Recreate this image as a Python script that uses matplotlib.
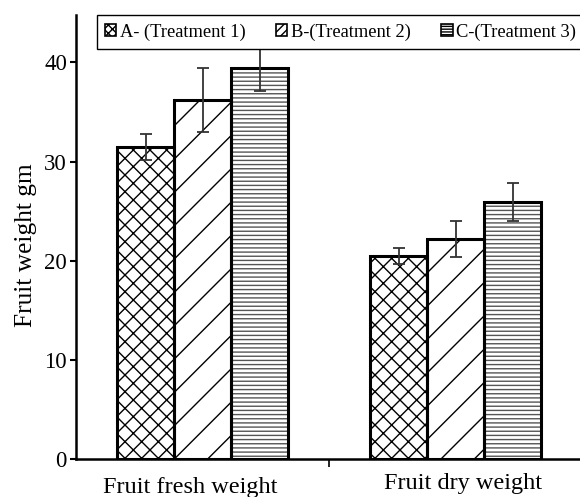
import matplotlib
matplotlib.use("Agg")
import matplotlib.pyplot as plt
import matplotlib.transforms as mtransforms
from matplotlib.patches import Patch
import numpy as np

categories = ["Fruit fresh weight", "Fruit dry weight"]
series_names = ["A- (Treatment 1)", "B-(Treatment 2)", "C-(Treatment 3)"]
values_A = [31.5, 20.5]
values_B = [36.2, 22.2]
values_C = [39.4, 25.9]
errors_A = [1.3, 0.8]
errors_B = [3.2, 1.8]
errors_C = [2.3, 1.9]
yticks = [0, 10, 20, 30, 40]

plt.rcParams['font.family'] = ['Liberation Serif', 'DejaVu Serif']
plt.rcParams['hatch.linewidth'] = 1.0

fig = plt.figure(figsize=(5.8, 4.97), dpi=100)
ax = fig.add_axes([0.131, 0.0765, 0.869, 0.8935])

x = np.arange(len(categories))
width = 0.225
series = [(values_A, errors_A, 'xx', 'black', 'xxxx'),
          (values_B, errors_B, '/', 'black', '////'),
          (values_C, errors_C, '----', '#555555', '------')]
handles = []
for i, (vals, errs, hatch, hcol, lhatch) in enumerate(series):
    pos = x + (i - 1) * width
    ax.bar(pos, vals, width, facecolor='white', edgecolor=hcol, linewidth=0,
           hatch=hatch, zorder=2)
    ax.bar(pos, vals, width, facecolor='none', edgecolor='black', linewidth=2.2, zorder=2.5)
    ax.errorbar(pos, vals, yerr=errs, fmt='none', ecolor='#333333', elinewidth=1.3,
                capsize=4, capthick=1.3, zorder=3)
    handles.append(Patch(facecolor='white', edgecolor='black', hatch=lhatch, linewidth=1.2))

ax.set_xlim(-0.5, 1.49)
ax.set_ylim(0, 44.8)
ax.set_yticks(yticks)
ax.tick_params(axis='y', direction='out', length=4.5, width=1.5, labelsize=16.5, pad=2)
ax.set_xticks([0.5])
ax.set_xticklabels([''])
ax.tick_params(axis='x', which='major', direction='out', length=6, width=1.2)
ax.set_xticks(x, minor=True)
ax.set_xticklabels(categories, minor=True)
ax.tick_params(axis='x', which='minor', length=0, labelsize=17.5, pad=10)
labs = ax.get_xticklabels(minor=True)
offs = [(-12, -4), (7, 0)]
for lab, (dx, dy) in zip(labs, offs):
    lab.set_transform(lab.get_transform() +
                      mtransforms.ScaledTranslation(dx / 100, dy / 100, fig.dpi_scale_trans))

for s in ['top', 'right']:
    ax.spines[s].set_visible(False)
ax.spines['left'].set_linewidth(1.8)
ax.spines['bottom'].set_linewidth(1.8)
ax.set_ylabel("Fruit weight gm", fontsize=18.3)
ax.yaxis.set_label_coords(-0.0774, 0.482)

leg = fig.legend(handles=handles, labels=series_names, loc='upper left',
                 bbox_to_anchor=(97 / 580, 1 - 15 / 497), ncol=3, fontsize=13.3,
                 frameon=True, fancybox=False, edgecolor='black', framealpha=1,
                 handlelength=0.6, handleheight=0.6, handletextpad=0.2,
                 columnspacing=1.65, borderpad=0.45, borderaxespad=0)
leg.get_frame().set_linewidth(1.0)

fig.savefig("out.png", dpi=100)
